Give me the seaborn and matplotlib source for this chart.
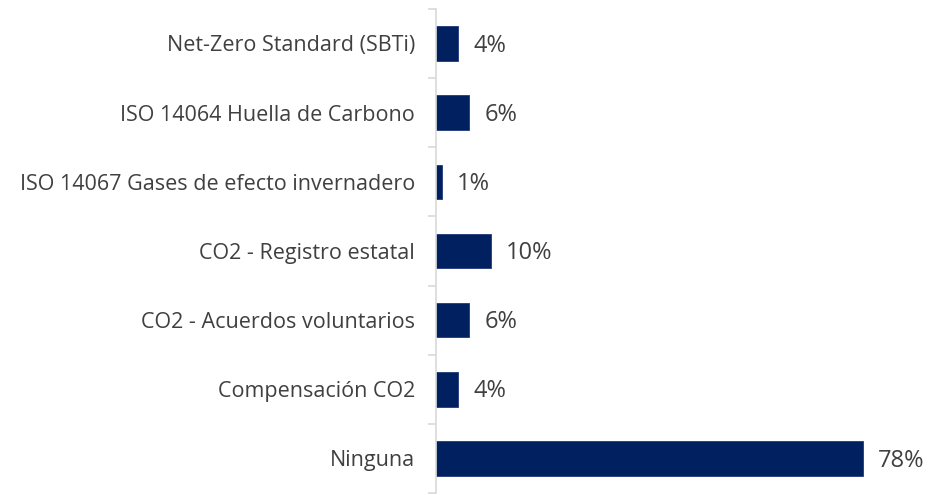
import matplotlib
matplotlib.use("Agg")
import matplotlib.pyplot as plt
import seaborn as sns
import pandas as pd

categories = ["Net-Zero Standard (SBTi)", "ISO 14064 Huella de Carbono",
              "ISO 14067 Gases de efecto invernadero", "CO2 - Registro estatal",
              "CO2 - Acuerdos voluntarios", "Compensación CO2", "Ninguna"]
values = [4, 6, 1, 10, 6, 4, 78]
labels = ["4%", "6%", "1%", "10%", "6%", "4%", "78%"]

sns.set_theme(style="white")
plt.rcParams['font.family'] = ['Open Sans', 'DejaVu Sans']

df = pd.DataFrame({"cat": categories, "val": values})

fig = plt.figure(figsize=(9.48, 4.95), dpi=100)
ax = fig.add_axes([0.46, 0.004, 0.54, 0.978])
sns.barplot(data=df, x="val", y="cat", color="#002060", width=0.5, ax=ax,
            saturation=1, edgecolor="#1f3a7a", linewidth=0.6)

ax.set_xlim(0, 93.6)
ax.set_ylim(6.5, -0.5)
ax.set_xlabel("")
ax.set_ylabel("")
ax.set_xticks([])
for s in ["top", "right", "bottom"]:
    ax.spines[s].set_visible(False)
ax.spines["left"].set_color("#d9d9d9")
ax.spines["left"].set_linewidth(1.2)

ax.tick_params(axis="y", which="major", length=0, pad=15, labelsize=15.5, labelcolor="#404040")
ax.set_yticks([i - 0.5 for i in range(len(categories) + 1)], minor=True)
ax.tick_params(axis="y", which="minor", length=6, width=1.2, color="#d9d9d9", left=True)

for i, (v, lab) in enumerate(zip(values, labels)):
    ax.text(v + 2.8, i + 0.03, lab, va="center", ha="left", fontsize=17, color="#404040")

fig.savefig("out.png", dpi=100)
